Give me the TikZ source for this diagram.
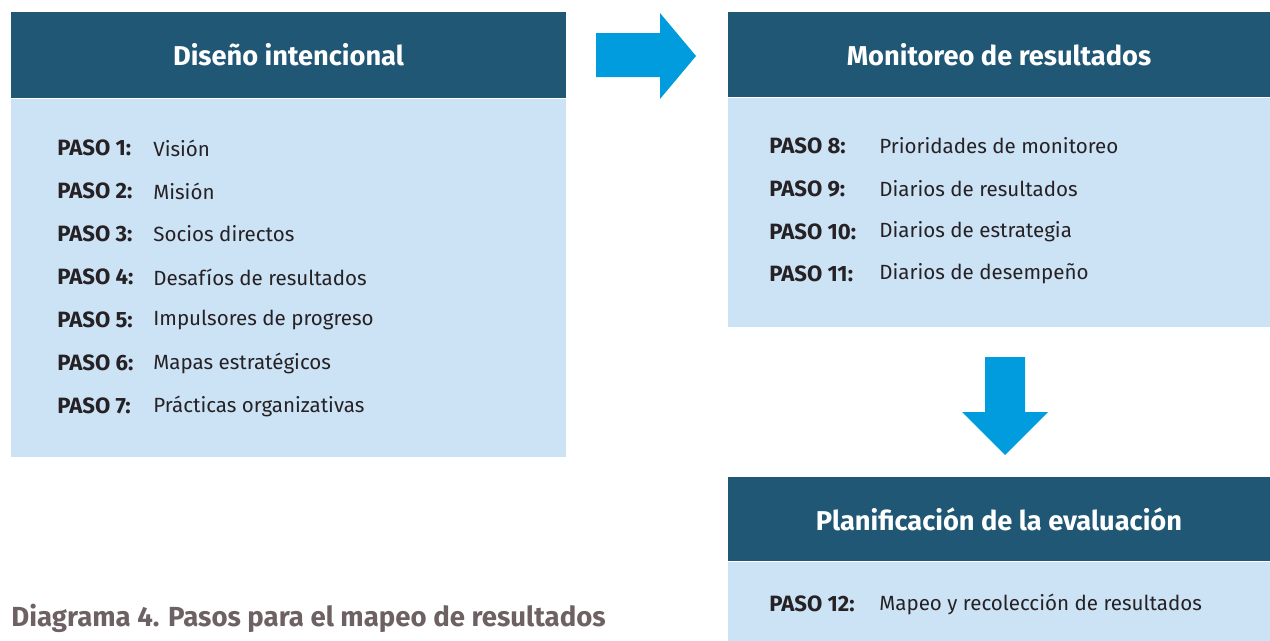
\documentclass[tikz,border=0pt]{standalone}
\usepackage{fontspec}
\setmainfont{Fira Sans}
\usepackage{tikz}
\usetikzlibrary{positioning}
\definecolor{headclr}{rgb}{0.12, 0.34, 0.46}
\definecolor{bodyclr}{rgb}{0.80, 0.89, 0.96}
\definecolor{arrowclr}{rgb}{0.0, 0.61, 0.87}
\definecolor{txtclr}{rgb}{0.15, 0.13, 0.14}
\definecolor{capclr}{rgb}{0.43, 0.38, 0.39}
\tikzset{ %
  ,head/.style={fill=headclr, text=white, inner sep=0, font=\fontsize{15.5}{18}\selectfont\bfseries}
  ,body/.style={fill=bodyclr, inner sep=0}
  ,paso/.style={anchor=west, inner sep=0, text=txtclr, font=\fontsize{12.6}{14}\selectfont\bfseries}
  ,desc/.style={anchor=west, inner sep=0, text=txtclr, font=\fontsize{11.7}{14}\selectfont}
  ,caption/.style={anchor=west, inner sep=0, text=capclr, font=\fontsize{15.7}{18}\selectfont\bfseries}
  ,bigarrow/.style={fill=arrowclr}
}
\begin{document}
\begin{tikzpicture}[x=0.02cm, y=-0.02cm]
  \useasboundingbox (0,0) rectangle (1270,640);
  % left column
  \node[head, minimum width=11.1cm, minimum height=1.72cm] (dihead) at (288.5,55) {Diseño intencional};
  \node[body, minimum width=11.1cm, minimum height=7.16cm, below=0pt of dihead] (dibody) {};
  \foreach \n/\t [count=\i from 0] in {1/Visión, 2/Misión, 3/Socios directos,
      4/Desafíos de resultados, 5/Impulsores de progreso, 6/Mapas estratégicos,
      7/Prácticas organizativas} {
    \node[paso] (p\n) at (57,148+43*\i) {PASO \n:};
    \node[desc] (d\n) at (153,148+43*\i) {\t};
  }
  % right column
  \node[head, minimum width=10.84cm, minimum height=1.7cm] (mrhead) at (999,54.5) {Monitoreo de resultados};
  \node[body, minimum width=10.84cm, minimum height=4.58cm, below=0pt of mrhead] (mrbody) {};
  \foreach \n/\t [count=\i from 0] in {8/Prioridades de monitoreo, 9/Diarios de resultados,
      10/Diarios de estrategia, 11/Diarios de desempeño} {
    \node[paso] (p\n) at (769,146+42.7*\i) {PASO \n:};
    \node[desc] (d\n) at (879,146+42.7*\i) {\t};
  }
  \node[head, minimum width=10.84cm, minimum height=1.68cm] (pehead) at (999,519) {Planificación de la evaluación};
  \node[body, minimum width=10.84cm, minimum height=1.58cm, below=0pt of pehead] (pebody) {};
  \node[paso] (p12) at (769,604) {PASO 12:};
  \node[desc] (d12) at (879,604) {Mapeo y recolección de resultados};
  % block arrows
  \fill[bigarrow] (596,33) -- (660,33) -- (660,13) -- (696,56) -- (660,99) -- (660,77) -- (596,77) -- cycle;
  \fill[bigarrow] (985,357) -- (1025,357) -- (1025,412) -- (1048,412) -- (1005,455) -- (962,412) -- (985,412) -- cycle;
  % caption
  \node[caption] (cap) at (11,618) {Diagrama 4. Pasos para el mapeo de resultados};
\end{tikzpicture}
\end{document}
